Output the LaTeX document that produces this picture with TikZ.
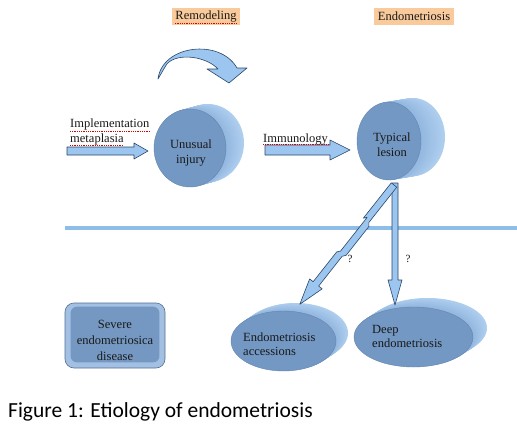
\documentclass[tikz,border=0pt]{standalone}
\usepackage{fontspec}
\setmainfont{Liberation Serif}
\newfontfamily\capfont{Carlito}
\usetikzlibrary{shapes.geometric,calc}
\definecolor{faceblue}{HTML}{7398C3}
\definecolor{faceedge}{HTML}{6386B0}
\definecolor{sidelight}{HTML}{AFCFEF}
\definecolor{sidedark}{HTML}{7EA6D4}
\definecolor{arrowfill}{HTML}{9CC6F0}
\definecolor{arrowline}{HTML}{2A4766}
\definecolor{sepline}{HTML}{8EBDE8}
\definecolor{lorange}{HTML}{F9CB9C}
\definecolor{boxface}{HTML}{7598C2}
\definecolor{boxrim}{HTML}{A3C0E2}
\definecolor{boxedge}{HTML}{4F6F96}
\newcommand{\mycyl}[6]{%
  \foreach \k in {20,19,...,1}{%
    \pgfmathsetmacro{\pct}{40+\k*3}%
    \fill[sidelight!\pct!sidedark] ({#1+#5*\k/20},{#2+#6*\k/20}) ellipse [x radius=#3, y radius=#4];
  }}
\tikzset{
  txt/.style={font=\fontsize{12.5}{15}\selectfont, text=black!90, inner sep=0pt},
  hdr/.style={txt, fill=lorange, inner xsep=3.5pt, minimum height=17pt},
  cylface/.style={ellipse, fill=faceblue, draw=faceedge, line width=0.4pt, inner sep=0pt},
  blk/.style={fill=arrowfill, draw=arrowline, line width=0.6pt, line join=round},
  squig/.style={red!85!black, dash pattern=on 0.8pt off 1pt, line width=0.6pt},
}
\begin{document}
\begin{tikzpicture}[x=1pt,y=-1pt]
\useasboundingbox (0,0) rectangle (517,431);
\fill[white] (0,0) rectangle (517,431);

% headers
\node[hdr] (hremod) at (206,16.5) {Remodeling};
\node[hdr] (hendo) at (414,16.5) {Endometriosis};
\draw[squig] ([shift={(3,-2)}]hremod.south west) -- ([shift={(-3,-2)}]hremod.south east);

% curved remodeling arrow
\draw[blk] (158,79) .. controls (162,45) and (220,38) .. (237,68) -- (247,68) -- (229,83) -- (207,69) -- (218,69)
  .. controls (205,55) and (172,52) .. (165,67) -- cycle;

% separator line
\draw[sepline, line width=3.5pt] (65,228) -- (517,228);

% cylinders
\mycyl{190}{148}{36}{39}{18}{-5}
\node[cylface, minimum width=72pt, minimum height=78pt] (inj) at (190,148) {};
\mycyl{389}{141}{32}{39}{24}{-4}
\node[cylface, minimum width=64pt, minimum height=78pt] (typ) at (389,141) {};
\mycyl{283.5}{341}{52.5}{30}{12}{-8}
\node[cylface, minimum width=105pt, minimum height=60pt] (acc) at (283.5,341) {};
\mycyl{413.5}{337}{59.5}{30}{14}{-9}
\node[cylface, minimum width=119pt, minimum height=60pt] (deep) at (413.5,337) {};

% severe box
\node[draw=boxedge, fill=boxrim, rounded corners=9pt, minimum width=100pt, minimum height=65pt, line width=0.6pt] (sev) at (115,335.5) {};
\fill[boxface, rounded corners=6pt] ([shift={(6,4)}]sev.north west) rectangle ([shift={(-6,-6)}]sev.south east);

% arrows
\draw[blk] (67,147) -- (134,147) -- (134,143) -- (148,151) -- (134,159) -- (134,155) -- (67,155) -- cycle;
\draw[blk] (265,145) -- (330,145) -- (330,140) -- (350,150) -- (330,160) -- (330,155) -- (265,155) -- cycle;
\draw[blk] (392,183) -- (398,183) -- (398,280) -- (402,280) -- (395,305) -- (388,280) -- (392,280) -- cycle;
\coordinate (ls) at (394,185);
\coordinate (lt) at (300,304);
\begin{scope}[shift={(ls)}, rotate=231.7]
\draw[blk] (0,3.5) -- (45,3.5) -- (42,1) -- (85,1) -- (88,3.5) -- (126,3.5) -- (126,8) -- (152,0)
  -- (126,-8) -- (126,-3.5) -- (88,-3.5) -- (85,-6) -- (48,-6) -- (45,-3.5) -- (0,-3.5) -- cycle;
\end{scope}

% texts
\node[txt, align=center] (injt) at (191,153) {Unusual\\injury};
\node[txt, align=center] (typt) at (392,145) {Typical\\lesion};
\node[txt, anchor=base west] (acct1) at (243,341) {Endometriosis};
\node[txt, anchor=base west] (acct2) at (243,355) {accessions};
\node[txt, anchor=base west] (deept1) at (372,333) {Deep};
\node[txt, anchor=base west] (deept2) at (372,347) {endometriosis};
\node[txt, align=center, font=\fontsize{12.5}{16}\selectfont] (sevt) at (115,340) {Severe\\endometriosica\\disease};
\node[txt, anchor=base west] (impl1) at (70,127) {Implementation};
\node[txt, anchor=base west] (impl2) at (70,142) {metaplasia};
\node[txt, anchor=base west] (immu) at (263,142) {Immunology};
\draw[squig] ([yshift=-4.5pt]impl1.base west) -- ([yshift=-4.5pt]impl1.base east);
\draw[squig] ([yshift=-3.5pt]impl2.base west) -- ([yshift=-3.5pt]impl2.base east);
\draw[squig] ([yshift=-2pt]immu.base west) -- ([yshift=-2pt]immu.base east);
\node[txt, font=\fontsize{11}{13}\selectfont] (q1) at (350,259) {?};
\node[txt, font=\fontsize{11}{13}\selectfont] (q2) at (408,259) {?};

% caption
\node[anchor=base west, inner sep=0pt, font=\capfont\fontsize{21.5}{26}\selectfont] (cap) at (8,417) {Figure 1: Etiology of endometriosis};
\end{tikzpicture}
\end{document}
